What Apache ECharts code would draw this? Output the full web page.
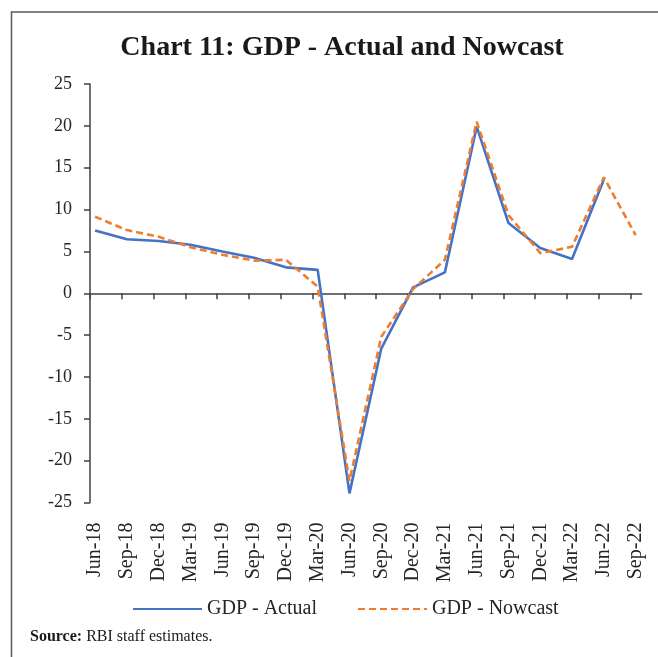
<!DOCTYPE html>
<html>
<head>
<meta charset="utf-8">
<script src="https://cdn.jsdelivr.net/npm/echarts@6/dist/echarts.min.js"></script>
<style>
html,body{margin:0;padding:0;background:#fff;}
#chart{width:658px;height:657px;}
</style>
</head>
<body>
<div id="chart"></div>
<script>
var categories = ['Jun-18','Sep-18','Dec-18','Mar-19','Jun-19','Sep-19','Dec-19','Mar-20','Jun-20','Sep-20','Dec-20','Mar-21','Jun-21','Sep-21','Dec-21','Mar-22','Jun-22','Sep-22'];
var gdpActual = [7.5, 6.45, 6.25, 5.8, 5.0, 4.25, 3.1, 2.8, -23.9, -6.6, 0.7, 2.5, 19.9, 8.4, 5.4, 4.1, 13.6, null];
var gdpNowcast = [9.15, 7.55, 6.75, 5.5, 4.6, 3.9, 4.0, 0.8, -22.4, -5.2, 0.5, 4.0, 20.5, 9.35, 4.8, 5.55, 13.85, 6.95];
var yTicks = [-25, -20, -15, -10, -5, 0, 5, 10, 15, 20, 25];

var OFF = 0.16;   // position of each quarter's point after its tick mark
var XMAX = 17.35;
var font = '"Liberation Serif", "DejaVu Serif", serif';

function toPairs(arr) {
  return arr.map(function (v, i) { return [i + OFF, v]; });
}
var tickVals = categories.map(function (c, i) { return i; });
var labelVals = categories.map(function (c, i) { return i + OFF; });

var chart = echarts.init(document.getElementById('chart'), null, {renderer: 'canvas'});
chart.setOption({
  animation: false,
  backgroundColor: '#ffffff',
  title: {
    text: 'Chart 11: GDP - Actual and Nowcast',
    left: 337, top: 29, textAlign: 'center',
    textStyle: {fontFamily: font, fontWeight: 'bold', fontSize: 28, color: '#1a1a1a'}
  },
  grid: {left: 90, right: 16.3, top: 84, bottom: 154.4, containLabel: false},
  legend: {
    left: 127, top: 594,
    itemWidth: 69, itemHeight: 14, itemGap: 40,
    itemStyle: {opacity: 0},
    textStyle: {fontFamily: font, fontSize: 20, color: '#262626'},
    data: ['GDP - Actual', 'GDP - Nowcast']
  },
  xAxis: [{
    type: 'value', min: 0, max: XMAX,
    axisLine: {onZero: true, lineStyle: {color: '#404040', width: 1.5}},
    axisTick: {show: true, inside: false, length: 6, customValues: tickVals, lineStyle: {color: '#404040', width: 1.5}},
    axisLabel: {show: false},
    splitLine: {show: false}
  }, {
    type: 'value', min: 0, max: XMAX, position: 'bottom',
    axisLine: {show: false, onZero: false},
    axisTick: {show: false},
    splitLine: {show: false},
    axisLabel: {
      show: true, rotate: 90, margin: 20,
      customValues: labelVals,
      fontFamily: font, fontSize: 20, color: '#262626',
      formatter: function (v) { return categories[Math.round(v - OFF)] || ''; }
    }
  }],
  yAxis: {
    type: 'value', min: yTicks[0], max: yTicks[yTicks.length - 1], interval: 5,
    axisLine: {show: true, onZero: false, lineStyle: {color: '#404040', width: 1.5}},
    axisTick: {show: true, inside: false, length: 6, lineStyle: {color: '#404040', width: 1.5}},
    axisLabel: {margin: 18, fontFamily: font, fontSize: 18, color: '#262626'},
    splitLine: {show: false}
  },
  series: [{
    name: 'GDP - Actual', type: 'line', xAxisIndex: 0,
    data: toPairs(gdpActual),
    symbol: 'none', connectNulls: false,
    lineStyle: {color: '#4472C4', width: 2.6},
    itemStyle: {color: '#4472C4'},
    z: 2
  }, {
    name: 'GDP - Nowcast', type: 'line', xAxisIndex: 0,
    data: toPairs(gdpNowcast),
    symbol: 'none',
    lineStyle: {color: '#ED7D31', width: 2.6, type: [7, 4]},
    itemStyle: {color: '#ED7D31'},
    z: 3
  }],
  graphic: [{
    type: 'rect', left: 9, top: 9.5,
    shape: {width: 700, height: 700},
    style: {fill: 'none', stroke: '#595959', lineWidth: 1.5},
    silent: true
  }, {
    type: 'text', left: 30, top: 629,
    style: {
      text: '{b|Source:} RBI staff estimates.',
      rich: {b: {fontFamily: font, fontWeight: 'bold', fontSize: 16, fill: '#1a1a1a'}},
      fontFamily: font, fontSize: 16, fill: '#1a1a1a'
    }
  }]
});
</script>
</body>
</html>
